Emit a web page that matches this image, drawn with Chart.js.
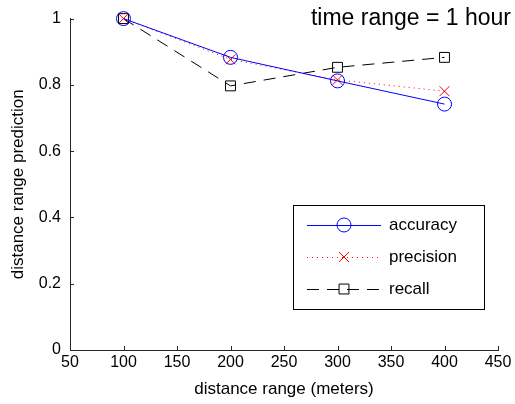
<!DOCTYPE html>
<html>
<head>
<meta charset="utf-8">
<script src="https://cdn.jsdelivr.net/npm/chart.js@4"></script>
<style>
  html, body { margin: 0; padding: 0; background: #fff; }
  #wrap { width: 515px; height: 404px; }
</style>
</head>
<body>
<div id="wrap"><canvas id="myChart" width="515" height="404"></canvas></div>
<script>
// values
const distances = [100, 200, 300, 400]; // x values (meters)
const accuracy = [1.0, 0.883, 0.812, 0.742];
const precision = [1.0, 0.877, 0.815, 0.781];
const recall = [1.0, 0.797, 0.853, 0.883];
const seriesNames = ["accuracy", "precision", "recall"];
const noteText = "time range = 1 hour";

const FONT = "'Liberation Sans', Arial, Helvetica, sans-serif";

function pts(ys) {
  return distances.map((x, i) => ({ x: x, y: ys[i] }));
}

//inward tick marks like matlab
const innerTicks = {
  id: "innerTicks",
  afterDraw(chart) {
    const ctx = chart.ctx;
    const xs = chart.scales.x;
    const ys = chart.scales.y;
    const a = chart.chartArea;
    ctx.save();
    ctx.strokeStyle = "#262626";
    ctx.lineWidth = 1;
    ctx.beginPath();
    xs.ticks.forEach((t) => {
      const px = Math.round(xs.getPixelForValue(t.value)) + 0.5;
      ctx.moveTo(px, a.bottom);
      ctx.lineTo(px, a.bottom - 4);
    });
    ys.ticks.forEach((t) => {
      const py = Math.round(ys.getPixelForValue(t.value)) + 0.5;
      ctx.moveTo(a.left, py);
      ctx.lineTo(a.left + 4, py);
    });
    ctx.stroke();
    ctx.restore();
  },
};

//legend box + note text inside the plot
const boxLegend = {
  id: "boxLegend",
  afterDraw(chart) {
    const ctx = chart.ctx;
    ctx.save();
    // note at the top right
    ctx.fillStyle = "#000";
    ctx.font = "23px " + FONT;
    ctx.textAlign = "right";
    ctx.textBaseline = "middle";
    ctx.fillText(noteText, 511, 19);

    // legend frame
    const bx = 293.5, by = 205.5, bw = 191, bh = 104;
    ctx.fillStyle = "#fff";
    ctx.fillRect(bx, by, bw, bh);
    ctx.strokeStyle = "#000";
    ctx.lineWidth = 1;
    ctx.setLineDash([]);
    ctx.strokeRect(bx, by, bw, bh);

    const rowsY = [225, 257, 289];
    chart.data.datasets.forEach((ds, i) => {
      const y = rowsY[i];
      ctx.save();
      ctx.strokeStyle = ds.borderColor;
      ctx.lineWidth = ds.borderWidth;
      ctx.setLineDash(ds.borderDash || []);
      ctx.beginPath();
      ctx.moveTo(307, y + 0.5);
      ctx.lineTo(381, y + 0.5);
      ctx.stroke();
      ctx.setLineDash([]);
      ctx.fillStyle = "rgba(0,0,0,0)";
      Chart.helpers.drawPoint(
        ctx,
        { pointStyle: ds.pointStyle, radius: ds.pointRadius, borderWidth: 1 },
        344,
        y
      );
      ctx.restore();
      ctx.fillStyle = "#000";
      ctx.font = "17px " + FONT;
      ctx.textAlign = "left";
      ctx.textBaseline = "middle";
      ctx.fillText(ds.label, 389, y);
    });
    ctx.restore();
  },
};

const ctx = document.getElementById("myChart");
const myChart = new Chart(ctx, {
  type: "line",
  data: {
    datasets: [
      {
        label: seriesNames[0],
        data: pts(accuracy),
        borderColor: "#0000ff",
        backgroundColor: "rgba(0,0,0,0)",
        borderWidth: 1,
        pointStyle: "circle",
        pointRadius: 7,
        pointBorderColor: "#0000ff",
        pointBorderWidth: 1,
        clip: false,
      },
      {
        label: seriesNames[1],
        data: pts(precision),
        borderColor: "#ff0000",
        backgroundColor: "rgba(0,0,0,0)",
        borderWidth: 1,
        borderDash: [1, 4],
        pointStyle: "crossRot",
        pointRadius: 7,
        pointBorderColor: "#ff0000",
        pointBorderWidth: 1,
        clip: false,
      },
      {
        label: seriesNames[2],
        data: pts(recall),
        borderColor: "#000000",
        backgroundColor: "rgba(0,0,0,0)",
        borderWidth: 1,
        borderDash: [12, 8],
        pointStyle: "rect",
        pointRadius: 7,
        pointBorderColor: "#000000",
        pointBorderWidth: 1,
        clip: false,
      },
    ],
  },
  options: {
    responsive: false,
    animation: false,
    events: [],
    layout: {
      padding: { top: 17, right: 17, left: 8, bottom: 4 },
    },
    scales: {
      x: {
        type: "linear",
        min: 50,
        max: 450,
        afterFit: (s) => {
          s.height = 50;
        },
        ticks: {
          stepSize: 50,
          padding: 3,
          color: "#000",
          font: { family: FONT, size: 16 },
        },
        grid: { display: false, drawTicks: false },
        border: { display: true, color: "#262626", width: 1 },
        title: {
          display: true,
          text: "distance range (meters)",
          color: "#000",
          font: { family: FONT, size: 17 },
          padding: { top: 0, bottom: 0 },
        },
      },
      y: {
        type: "linear",
        min: 0,
        max: 1,
        afterFit: (s) => {
          s.width = 62;
        },
        ticks: {
          stepSize: 0.2,
          padding: 9,
          color: "#000",
          font: { family: FONT, size: 16 },
          callback: (v) => String(Math.round(v * 10) / 10),
        },
        grid: { display: false, drawTicks: false },
        border: { display: true, color: "#262626", width: 1 },
        title: {
          display: true,
          text: "distance range prediction",
          color: "#000",
          font: { family: FONT, size: 17 },
          padding: { top: 0, bottom: 0 },
        },
      },
    },
    plugins: {
      legend: { display: false },
      tooltip: { enabled: false },
      title: { display: false },
    },
  },
  plugins: [innerTicks, boxLegend],
});
</script>
</body>
</html>
